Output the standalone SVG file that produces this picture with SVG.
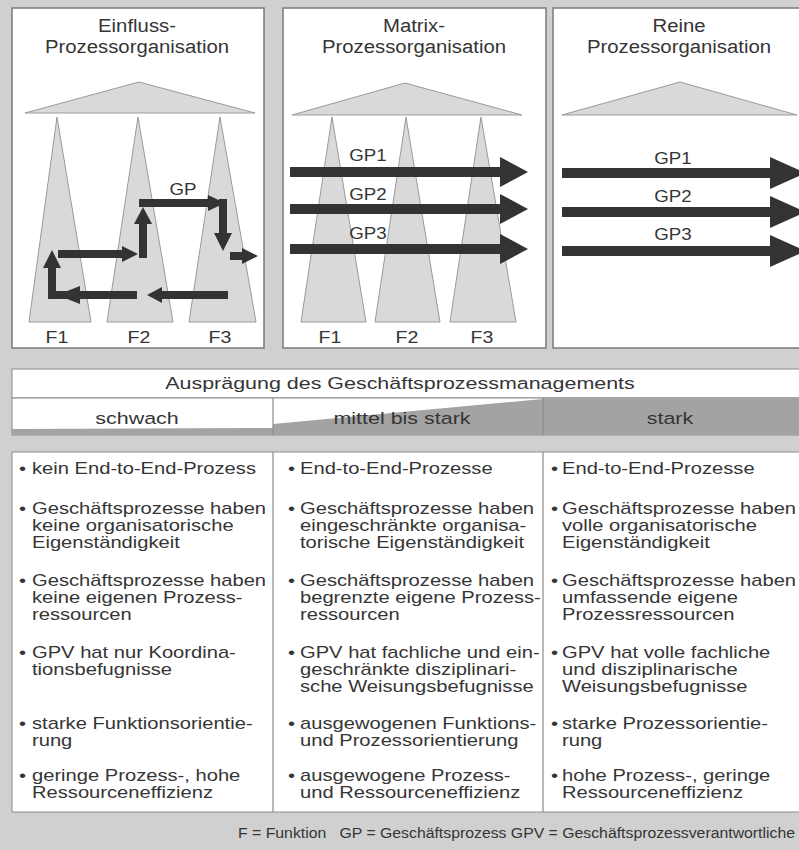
<svg xmlns="http://www.w3.org/2000/svg" width="799" height="850" viewBox="0 0 799 850">
<defs>
<style>
text{font-family:"Liberation Sans",Arial,sans-serif;fill:#353535}
.b{font-size:16px}
.l{font-size:15.5px}
.h{font-size:18px;text-anchor:middle}
.f{font-size:17px;text-anchor:middle}
.g{font-size:17px;text-anchor:middle}
.c{font-size:16.5px;text-anchor:middle}
.panel{fill:#fff;stroke:#7a7a7a;stroke-width:1.5}
.tri{fill:#d9d9d9;stroke:#9a9a9a;stroke-width:1}
.a1{fill:none;stroke:#333;stroke-width:8}
.a2{fill:none;stroke:#333;stroke-width:10}
.ah{fill:#333}
.cell{fill:#fff;stroke:#8a8a8a;stroke-width:1}
.dk{fill:#a3a3a3}
.ln{stroke:#8a8a8a;stroke-width:1.2}
</style>
</defs>
<rect x="0" y="0" width="799" height="850" fill="#d0d0d0"/>

<g id="einfluss">
<rect class="panel" x="12" y="8" width="252" height="340"/>
<text class="h" transform="translate(137 32) scale(1.13 1)">Einfluss-</text>
<text class="h" transform="translate(137 53) scale(1.13 1)">Prozessorganisation</text>
<polygon class="tri" points="25,113 139,82 255,113"/>
<polygon class="tri" points="57,117 29,322 91,322"/>
<polygon class="tri" points="138,117 107,322 173,322"/>
<polygon class="tri" points="220,117 189,322 256,322"/>
<text class="f" transform="translate(57 343) scale(1.15 1)">F1</text>
<text class="f" transform="translate(139 343) scale(1.15 1)">F2</text>
<text class="f" transform="translate(220 343) scale(1.15 1)">F3</text>
<text class="g" transform="translate(183 195) scale(1.1 1)">GP</text>
</g>

<g id="matrix">
<rect class="panel" x="283" y="8" width="263" height="340"/>
<text class="h" transform="translate(414 32) scale(1.13 1)">Matrix-</text>
<text class="h" transform="translate(414 53) scale(1.13 1)">Prozessorganisation</text>
<polygon class="tri" points="292,115 405,83 522,115"/>
<polygon class="tri" points="332,117 301,322 366,322"/>
<polygon class="tri" points="406,117 375,322 440,322"/>
<polygon class="tri" points="481,117 450,322 516,322"/>
<text class="f" transform="translate(330 343) scale(1.15 1)">F1</text>
<text class="f" transform="translate(407 343) scale(1.15 1)">F2</text>
<text class="f" transform="translate(482 343) scale(1.15 1)">F3</text>
<text class="g" transform="translate(368 161) scale(1.1 1)">GP1</text>
<text class="g" transform="translate(368 200) scale(1.1 1)">GP2</text>
<text class="g" transform="translate(368 239) scale(1.1 1)">GP3</text>
</g>

<g id="rein">
<rect class="panel" x="553" y="8" width="260" height="340"/>
<text class="h" transform="translate(679 32) scale(1.13 1)">Reine</text>
<text class="h" transform="translate(679 53) scale(1.13 1)">Prozessorganisation</text>
<polygon class="tri" points="562,115 680,82 797,115"/>
<text class="g" transform="translate(673 164) scale(1.1 1)">GP1</text>
<text class="g" transform="translate(673 202) scale(1.1 1)">GP2</text>
<text class="g" transform="translate(673 240) scale(1.1 1)">GP3</text>
</g>

<g id="connectors">
<path class="a1" d="M228,295 H160"/>
<polygon class="ah" points="147,295 162,287 162,303"/>
<path class="a1" d="M137,295 H52 V266"/>
<polygon class="ah" points="57,295 80,286 80,304"/>
<polygon class="ah" points="52,250 43,268 61,268"/>
<path class="a1" d="M58,254 H124"/>
<polygon class="ah" points="138,254 122,246 122,262"/>
<path class="a1" d="M143,258 V222"/>
<polygon class="ah" points="143,207 134,224 152,224"/>
<path class="a1" d="M139,203 H210"/>
<polygon class="ah" points="225,203 208,195 208,211"/>
<path class="a1" d="M223,199 V235"/>
<polygon class="ah" points="223,251 214,233 232,233"/>
<path class="a1" d="M230,256 H244"/>
<polygon class="ah" points="258,256 242,248 242,264"/>

<path class="a2" d="M290,172 H502"/>
<polygon class="ah" points="528,172 500,157 500,187"/>
<path class="a2" d="M290,209 H502"/>
<polygon class="ah" points="528,209 500,194 500,224"/>
<path class="a2" d="M290,249 H502"/>
<polygon class="ah" points="528,249 500,234 500,264"/>

<path class="a2" d="M562,173 H772"/>
<polygon class="ah" points="806,173 770,157 770,189"/>
<path class="a2" d="M562,212 H772"/>
<polygon class="ah" points="806,212 770,196 770,228"/>
<path class="a2" d="M562,251 H772"/>
<polygon class="ah" points="806,251 770,235 770,267"/>
</g>

<g id="auspraegung">
<rect class="cell" x="12" y="369" width="800" height="29"/>
<text class="c" transform="translate(400 389) scale(1.3 1)">Ausprägung des Geschäftsprozessmanagements</text>
</g>

<g id="stufen">
<rect class="cell" x="12" y="398" width="800" height="37"/>
<polygon class="dk" points="12,429 273,428 273,435 12,435"/>
<polygon class="dk" points="273,424 543,399 543,435 273,435"/>
<rect class="dk" x="543" y="398" width="270" height="37"/>
<line class="ln" x1="273" y1="398" x2="273" y2="435"/>
<line class="ln" x1="543" y1="398" x2="543" y2="435"/>
<text class="c" transform="translate(137 424) scale(1.3 1)">schwach</text>
<text class="c" transform="translate(402 424) scale(1.3 1)">mittel bis stark</text>
<text class="c" transform="translate(670 424) scale(1.3 1)">stark</text>
</g>

<g id="tabelle">
<rect class="cell" x="12" y="452" width="800" height="360"/>
<line class="ln" x1="273" y1="452" x2="273" y2="812"/>
<line class="ln" x1="543" y1="452" x2="543" y2="812"/>
</g>

<g id="spalte1">
<text class="b" transform="translate(19 474) scale(1.26 1)">•</text>
<text class="b" transform="translate(32 474) scale(1.26 1)">kein End-to-End-Prozess</text>
<text class="b" transform="translate(19 514) scale(1.26 1)">•</text>
<text class="b" transform="translate(32 514) scale(1.26 1)"><tspan x="0" y="0">Geschäftsprozesse haben</tspan><tspan x="0" dy="17">keine organisatorische</tspan><tspan x="0" dy="17">Eigenständigkeit</tspan></text>
<text class="b" transform="translate(19 586) scale(1.26 1)">•</text>
<text class="b" transform="translate(32 586) scale(1.26 1)"><tspan x="0" y="0">Geschäftsprozesse haben</tspan><tspan x="0" dy="17">keine eigenen Prozess-</tspan><tspan x="0" dy="17">ressourcen</tspan></text>
<text class="b" transform="translate(19 658) scale(1.26 1)">•</text>
<text class="b" transform="translate(32 658) scale(1.26 1)"><tspan x="0" y="0">GPV hat nur Koordina-</tspan><tspan x="0" dy="17">tionsbefugnisse</tspan></text>
<text class="b" transform="translate(19 729) scale(1.26 1)">•</text>
<text class="b" transform="translate(32 729) scale(1.26 1)"><tspan x="0" y="0">starke Funktionsorientie-</tspan><tspan x="0" dy="17">rung</tspan></text>
<text class="b" transform="translate(19 781) scale(1.26 1)">•</text>
<text class="b" transform="translate(32 781) scale(1.26 1)"><tspan x="0" y="0">geringe Prozess-, hohe</tspan><tspan x="0" dy="17">Ressourceneffizienz</tspan></text>
</g>

<g id="spalte2">
<text class="b" transform="translate(288 474) scale(1.26 1)">•</text>
<text class="b" transform="translate(300 474) scale(1.26 1)">End-to-End-Prozesse</text>
<text class="b" transform="translate(288 514) scale(1.26 1)">•</text>
<text class="b" transform="translate(300 514) scale(1.26 1)"><tspan x="0" y="0">Geschäftsprozesse haben</tspan><tspan x="0" dy="17">eingeschränkte organisa-</tspan><tspan x="0" dy="17">torische Eigenständigkeit</tspan></text>
<text class="b" transform="translate(288 586) scale(1.26 1)">•</text>
<text class="b" transform="translate(300 586) scale(1.26 1)"><tspan x="0" y="0">Geschäftsprozesse haben</tspan><tspan x="0" dy="17">begrenzte eigene Prozess-</tspan><tspan x="0" dy="17">ressourcen</tspan></text>
<text class="b" transform="translate(288 658) scale(1.26 1)">•</text>
<text class="b" transform="translate(300 658) scale(1.26 1)"><tspan x="0" y="0">GPV hat fachliche und ein-</tspan><tspan x="0" dy="17">geschränkte disziplinari-</tspan><tspan x="0" dy="17">sche Weisungsbefugnisse</tspan></text>
<text class="b" transform="translate(288 729) scale(1.26 1)">•</text>
<text class="b" transform="translate(300 729) scale(1.26 1)"><tspan x="0" y="0">ausgewogenen Funktions-</tspan><tspan x="0" dy="17">und Prozessorientierung</tspan></text>
<text class="b" transform="translate(288 781) scale(1.26 1)">•</text>
<text class="b" transform="translate(300 781) scale(1.26 1)"><tspan x="0" y="0">ausgewogene Prozess-</tspan><tspan x="0" dy="17">und Ressourceneffizienz</tspan></text>
</g>

<g id="spalte3">
<text class="b" transform="translate(551 474) scale(1.26 1)">•</text>
<text class="b" transform="translate(562 474) scale(1.26 1)">End-to-End-Prozesse</text>
<text class="b" transform="translate(551 514) scale(1.26 1)">•</text>
<text class="b" transform="translate(562 514) scale(1.26 1)"><tspan x="0" y="0">Geschäftsprozesse haben</tspan><tspan x="0" dy="17">volle organisatorische</tspan><tspan x="0" dy="17">Eigenständigkeit</tspan></text>
<text class="b" transform="translate(551 586) scale(1.26 1)">•</text>
<text class="b" transform="translate(562 586) scale(1.26 1)"><tspan x="0" y="0">Geschäftsprozesse haben</tspan><tspan x="0" dy="17">umfassende eigene</tspan><tspan x="0" dy="17">Prozessressourcen</tspan></text>
<text class="b" transform="translate(551 658) scale(1.26 1)">•</text>
<text class="b" transform="translate(562 658) scale(1.26 1)"><tspan x="0" y="0">GPV hat volle fachliche</tspan><tspan x="0" dy="17">und disziplinarische</tspan><tspan x="0" dy="17">Weisungsbefugnisse</tspan></text>
<text class="b" transform="translate(551 729) scale(1.26 1)">•</text>
<text class="b" transform="translate(562 729) scale(1.26 1)"><tspan x="0" y="0">starke Prozessorientie-</tspan><tspan x="0" dy="17">rung</tspan></text>
<text class="b" transform="translate(551 781) scale(1.26 1)">•</text>
<text class="b" transform="translate(562 781) scale(1.26 1)"><tspan x="0" y="0">hohe Prozess-, geringe</tspan><tspan x="0" dy="17">Ressourceneffizienz</tspan></text>
</g>

<g id="legende">
<text class="l" x="238" y="838" textLength="557" lengthAdjust="spacingAndGlyphs" style="white-space:pre">F = Funktion   GP = Geschäftsprozess GPV = Geschäftsprozessverantwortliche</text>
</g>
</svg>
